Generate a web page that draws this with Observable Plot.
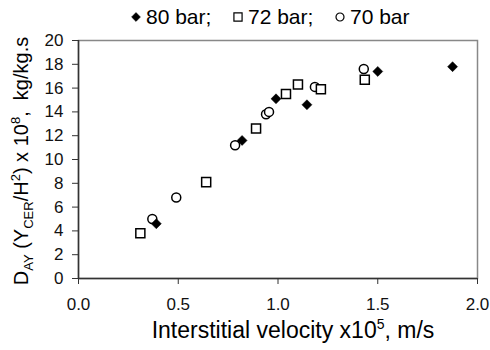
<!DOCTYPE html>
<html><head><meta charset="utf-8">
<script src="https://cdn.jsdelivr.net/npm/d3@7"></script>
<script src="https://cdn.jsdelivr.net/npm/@observablehq/plot@0.6"></script>
<style>
body{margin:0;background:#fff;font-family:"Liberation Sans",Arial,sans-serif;}
#legend{position:relative;width:490px;height:30px;}
#legend .item{position:absolute;top:5px;display:flex;align-items:center;font-size:21px;line-height:24px;color:#000;white-space:pre;}
#legend svg{margin-right:4px;}
</style></head><body>
<div id="legend"></div><div id="chart"></div>
<script>
// 80 bar (filled diamonds)
const x80 = [0.39, 0.82, 0.99, 1.145, 1.50, 1.875];
const y80 = [4.6, 11.6, 15.1, 14.6, 17.4, 17.8];
// 72 bar (open squares)
const x72 = [0.31, 0.64, 0.89, 1.04, 1.10, 1.215, 1.435];
const y72 = [3.8, 8.1, 12.6, 15.5, 16.3, 15.9, 16.7];
// 70 bar (open circles)
const x70 = [0.37, 0.49, 0.785, 0.94, 0.955, 1.185, 1.43];
const y70 = [5.0, 6.8, 11.2, 13.8, 14.0, 16.1, 17.6];

const seriesNames = ["80 bar;", "72 bar;", "70 bar"];
const xTicks = [0, 0.5, 1.0, 1.5, 2.0];
const yTicks = [0, 2, 4, 6, 8, 10, 12, 14, 16, 18, 20];

const toRows = (xs, ys) => xs.map((x, i) => ({x, y: ys[i]}));
const d80 = toRows(x80, y80), d72 = toRows(x72, y72), d70 = toRows(x70, y70);

const circleStyle = {symbol: "circle", r: 4.5, fill: "white", stroke: "black", strokeWidth: 1.5};
const squareStyle = {symbol: "square", r: 5.1, fill: "white", stroke: "black", strokeWidth: 1.5};
const diamondStyle = {symbol: "diamond2", r: 4.5, fill: "black", stroke: "black", strokeWidth: 0.5};

const plot = Plot.plot({
  width: 490, height: 320,
  marginTop: 10, marginRight: 13, marginBottom: 72, marginLeft: 78,
  style: {fontFamily: "'Liberation Sans', Arial, sans-serif", fontSize: "17px", color: "#111", background: "white", overflow: "visible"},
  x: {domain: [0, 2]},
  y: {domain: [0, 20]},
  marks: [
    Plot.frame({stroke: "#888", strokeWidth: 1.5}),
    Plot.ruleX([0], {stroke: "#333", strokeWidth: 1.5}),
    Plot.ruleY([0], {stroke: "#333", strokeWidth: 1.5}),
    Plot.axisX({ticks: xTicks, tickFormat: d3.format(".1f"), tickSize: 6, tickPadding: 13, label: null, stroke: "#333", fontSize: 17}),
    Plot.axisY({ticks: yTicks, tickSize: 6, tickPadding: 9, label: null, stroke: "#333", fontSize: 17}),
    Plot.dot(d70, {x: "x", y: "y", ...circleStyle}),
    Plot.dot(d72, {x: "x", y: "y", ...squareStyle}),
    Plot.dot(d80, {x: "x", y: "y", ...diamondStyle})
  ]
});
document.getElementById("chart").appendChild(plot);

// axis titles with sub/superscripts
const svg = d3.select(plot);
const xt = svg.append("text").attr("x", 293).attr("y", 308).attr("text-anchor", "middle")
  .attr("font-size", 23).attr("fill", "#000");
xt.append("tspan").text("Interstitial velocity x10");
xt.append("tspan").attr("font-size", 14).attr("dy", -9).text("5");
xt.append("tspan").attr("dy", 9).text(", m/s");

const yt = svg.append("text").attr("transform", "translate(28,131) rotate(-90)").attr("text-anchor", "middle")
  .attr("font-size", 20).attr("fill", "#000");
yt.append("tspan").text("D");
yt.append("tspan").attr("font-size", 13).attr("dy", 5).text("AY");
yt.append("tspan").attr("dy", -5).text(" (Y");
yt.append("tspan").attr("font-size", 13).attr("dy", 5).text("CER");
yt.append("tspan").attr("dy", -5).text("/H");
yt.append("tspan").attr("font-size", 13).attr("dy", -8).text("2");
yt.append("tspan").attr("dy", 8).text(") x 10");
yt.append("tspan").attr("font-size", 13).attr("dy", -8).text("8");
yt.append("tspan").attr("dy", 8).text(",\u00a0\u00a0kg/kg.s");

// legend
const legend = d3.select("#legend");
const styles = [diamondStyle, squareStyle, circleStyle];
const lefts = [130, 232, 334];
seriesNames.forEach((name, i) => {
  const st = styles[i];
  const item = legend.append("div").attr("class", "item").style("left", lefts[i] + "px");
  const s = item.append("svg").attr("width", 12).attr("height", 12);
  const sym = {circle: d3.symbolCircle, square: d3.symbolSquare, diamond2: d3.symbolDiamond2}[st.symbol];
  s.append("path").attr("transform", "translate(6,6)")
    .attr("d", d3.symbol(sym, Math.PI * (st.r - 0.5) * (st.r - 0.5))())
    .attr("fill", st.fill).attr("stroke", st.stroke).attr("stroke-width", st.strokeWidth === 1.5 ? 1.2 : 0.5);
  item.append("span").text(name);
});
</script>
</body></html>
